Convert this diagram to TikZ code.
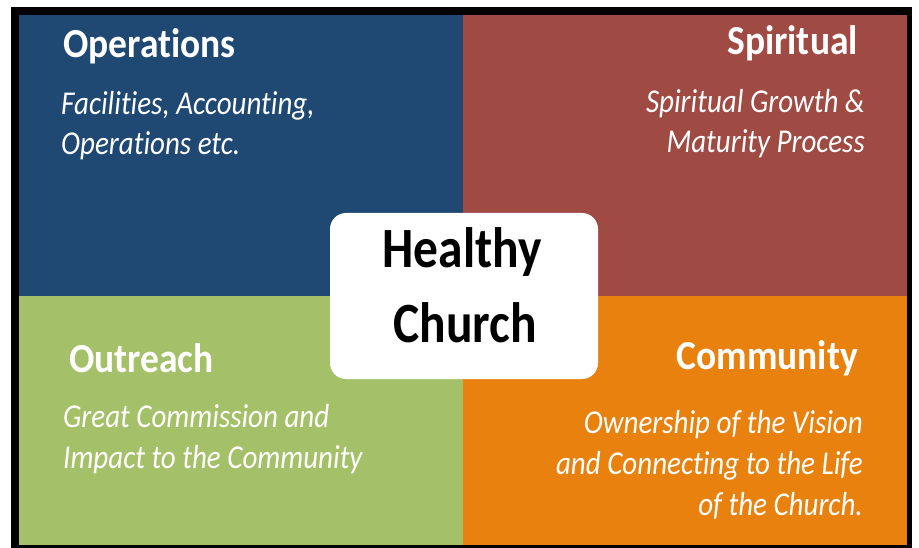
\documentclass[tikz,border=0pt]{standalone}
\usepackage{fontspec}
\setmainfont{Carlito}[Ligatures=NoCommon]
\usetikzlibrary{positioning}

\definecolor{opsblue}{RGB}{31,72,114}
\definecolor{spired}{RGB}{160,74,68}
\definecolor{outgreen}{RGB}{164,193,105}
\definecolor{comorange}{RGB}{232,129,14}

\tikzset{
  headtxt/.style={text=white,inner sep=0pt,yscale=1.1,font=\bfseries\fontsize{37.5}{40}\selectfont},
  bodytxt/.style={text=white,inner sep=0pt,yscale=1.15,font=\itshape\fontsize{29}{34}\selectfont},
  hctxt/.style={text=black,inner sep=0pt,yscale=1.15,font=\bfseries\fontsize{49.5}{55}\selectfont}
}

\begin{document}
\begin{tikzpicture}[line cap=round,line join=round,x=1pt,y=-1pt]
      \useasboundingbox (0,0) rectangle (919,548);
      \fill[black] (11,7) rectangle (912,548);

      \foreach \c/\xa/\ya/\xb/\yb in {opsblue/19/15/463/296,spired/463/15/907/296,
                                      outgreen/19/296/463/545,comorange/463/296/907/545}{
        \fill[\c] (\xa,\ya) rectangle (\xb,\yb);
      }

      % the four corners
      \node[headtxt,anchor=base west] (ops) at (63,58) {Operations};
      \node[bodytxt,anchor=base west] (ops1) at (61,115) {Facilities, Accounting,};
      \node[bodytxt,anchor=base west] (ops2) at (61,155) {Operations etc.};

      \node[headtxt,anchor=base east] (spi) at (858,55) {Spiritual};
      \node[bodytxt,anchor=base east] (spi1) at (865,113) {Spiritual Growth \&};
      \node[bodytxt,anchor=base east] (spi2) at (865,153) {Maturity Process};

      \node[headtxt,anchor=base west] (out) at (69,372) {Outreach};
      \node[bodytxt,anchor=base west] (out1) at (63,427) {Great Commission and};
      \node[bodytxt,anchor=base west] (out2) at (63,468) {Impact to the Community};

      \node[headtxt,anchor=base east] (com) at (858,370) {Community};
      \node[bodytxt,anchor=base east] (com1) at (863,433) {Ownership of the Vision};
      \node[bodytxt,anchor=base east] (com2) at (863,474) {and Connecting to the Life};
      \node[bodytxt,anchor=base east] (com3) at (863,515) {of the Church.};

      % centre box
      \node[fill=white,rounded corners=16pt,minimum width=268pt,minimum height=166pt,inner sep=0pt] (hcbox) at (464,296) {};
      \node[hctxt,anchor=base] (healthy) at (462,268) {Healthy};
      \node[hctxt,anchor=base] (church) at (465,342) {Church};
\end{tikzpicture}
\end{document}
